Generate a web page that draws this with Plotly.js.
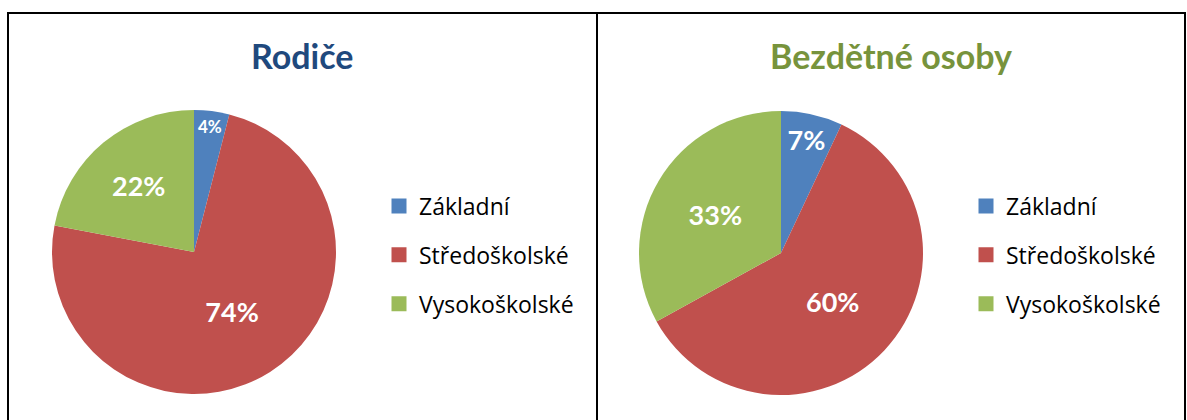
<!DOCTYPE html>
<html>
<head>
<meta charset="utf-8">
<script src="https://cdn.plot.ly/plotly-3.0.1.min.js"></script>
<style>html,body{margin:0;padding:0;background:#fff;}#chart{width:1187px;height:420px;}</style>
</head>
<body>
<div id="chart"></div>
<script>
const categories = ["Základní", "Středoškolské", "Vysokoškolské"];
const parentsValues = [4, 74, 22];
const childlessValues = [7, 60, 33];
const chartTitles = ["Rodiče", "Bezdětné osoby"];
const sliceColors = ["#4F81BD", "#C0504D", "#9BBB59"];

const W = 1187, H = 420;
const px = v => v / W;
const py = v => 1 - v / H;

const font = "Lato, 'Open Sans', sans-serif";

function pieTrace(values, cx, cy, r) {
  return {
    type: "pie",
    labels: categories,
    values: values,
    sort: false,
    direction: "clockwise",
    rotation: 0,
    marker: {colors: sliceColors, line: {width: 0}},
    texttemplate: "%{value}%",
    textposition: "inside",
    insidetextorientation: "horizontal",
    textfont: {family: font, size: 27, color: "#ffffff", weight: "bold"},
    showlegend: false,
    hoverinfo: "label+value",
    domain: {x: [px(cx - r), px(cx + r)], y: [py(cy + r), py(cy - r)]}
  };
}

const traces = [
  pieTrace(parentsValues, 194, 252, 142),
  pieTrace(childlessValues, 781, 253, 142)
];

["legend", "legend2"].forEach(lg => {
  categories.forEach((c, i) => {
    traces.push({
      type: "scatter", mode: "markers",
      x: [null], y: [null],
      name: c,
      legend: lg,
      legendgroup: lg + i,
      marker: {symbol: "square", size: 15, color: sliceColors[i]},
      hoverinfo: "skip"
    });
  });
});

const legendCommon = {
  font: {family: "'Open Sans', Lato, sans-serif", size: 23, color: "#000"},
  tracegroupgap: 16,
  bgcolor: "rgba(0,0,0,0)",
  xanchor: "left", yanchor: "middle",
  itemclick: false, itemdoubleclick: false
};

const layout = {
  width: W, height: H,
  margin: {l: 0, r: 0, t: 0, b: 0},
  paper_bgcolor: "#ffffff",
  plot_bgcolor: "rgba(0,0,0,0)",
  xaxis: {visible: false, domain: [0, 0.01]},
  yaxis: {visible: false, domain: [0, 0.01]},
  legend: Object.assign({}, legendCommon, {x: px(379), y: py(255)}),
  legend2: Object.assign({}, legendCommon, {x: px(966), y: py(255)}),
  shapes: [
    {type: "rect", xref: "paper", yref: "paper", x0: px(8), x1: px(597), y0: py(440), y1: py(13),
     line: {color: "#000", width: 2}, fillcolor: "rgba(0,0,0,0)"},
    {type: "rect", xref: "paper", yref: "paper", x0: px(597), x1: px(1185), y0: py(440), y1: py(13),
     line: {color: "#000", width: 2}, fillcolor: "rgba(0,0,0,0)"}
  ],
  annotations: [
    {text: chartTitles[0], xref: "paper", yref: "paper", x: px(302), y: py(56), xanchor: "center", yanchor: "middle",
     showarrow: false, font: {family: font, size: 34, color: "#1F497D", weight: "bold"}},
    {text: chartTitles[1], xref: "paper", yref: "paper", x: px(891), y: py(56), xanchor: "center", yanchor: "middle",
     showarrow: false, font: {family: font, size: 34, color: "#77933C", weight: "bold"}}
  ]
};

Plotly.newPlot("chart", traces, layout, {displayModeBar: false, staticPlot: true});
</script>
</body>
</html>
